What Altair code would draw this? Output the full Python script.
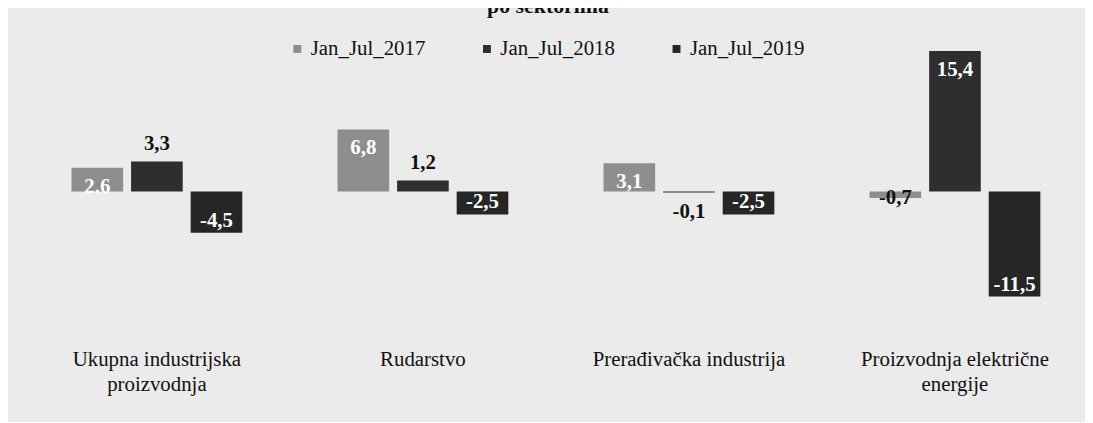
import altair as alt
import pandas as pd

title_text = "po sektorima"
categories = [
    "Ukupna industrijska\nproizvodnja",
    "Rudarstvo",
    "Prerađivačka industrija",
    "Proizvodnja električne\nenergije",
]
series = ["Jan_Jul_2017", "Jan_Jul_2018", "Jan_Jul_2019"]
values_2017 = [2.6, 6.8, 3.1, -0.7]
values_2018 = [3.3, 1.2, -0.1, 15.4]
values_2019 = [-4.5, -2.5, -2.5, -11.5]
labels_2017 = ["2.6", "6,8", "3,1", "-0,7"]
labels_2018 = ["3,3", "1,2", "-0,1", "15,4"]
labels_2019 = ["-4,5", "-2,5", "-2,5", "-11,5"]
place_2017 = ["inside", "inside", "inside", "end"]
place_2018 = ["outside", "outside", "outside", "inside"]
place_2019 = ["inside", "inside", "inside", "inside"]
colors = ["#8e8e8e", "#2e2e2e", "#262626"]

rows = []
for s, vals, labs, pls in [
    (series[0], values_2017, labels_2017, place_2017),
    (series[1], values_2018, labels_2018, place_2018),
    (series[2], values_2019, labels_2019, place_2019),
]:
    for c, v, l, p in zip(categories, vals, labs, pls):
        rows.append({"cat": c, "series": s, "value": v, "label": l, "place": p})
df = pd.DataFrame(rows)

FONT = "Liberation Serif"

base = alt.Chart(df).encode(
    x=alt.X(
        "cat:N",
        sort=categories,
        scale=alt.Scale(range=[0, 1072], paddingInner=0.358, paddingOuter=0.179),
        axis=alt.Axis(
            title=None,
            labelAngle=0,
            domain=False,
            ticks=False,
            grid=False,
            labelFont=FONT,
            labelFontSize=21,
            labelColor="#111111",
            labelPadding=39,
            labelLineHeight=25,
            labelBaseline="top",
            labelLimit=400,
            labelExpr="split(datum.label, '\\n')",
        ),
    ),
    xOffset=alt.XOffset(
        "series:N", sort=series, scale=alt.Scale(paddingInner=0.1333, paddingOuter=0)
    ),
    y=alt.Y(
        "value:Q",
        scale=alt.Scale(domain=[-13, 17], nice=False, zero=True),
        axis=None,
    ),
)

bars = base.mark_bar().encode(
    color=alt.Color(
        "series:N",
        scale=alt.Scale(domain=series, range=colors),
        legend=alt.Legend(
            title=None,
            orient="none",
            legendX=265,
            legendY=2,
            direction="horizontal",
            symbolType="square",
            symbolSize=64,
            symbolStrokeWidth=0,
            symbolOpacity=1,
            labelFont=FONT,
            labelFontSize=21,
            labelColor="#111111",
            labelOffset=3,
            columnPadding=51,
        ),
    )
)


def label_layer(cond, dy, color):
    return (
        base.transform_filter(cond)
        .mark_text(
            font=FONT,
            fontSize=21,
            fontWeight="bold",
            baseline="middle",
            align="center",
            dy=dy,
            color=color,
        )
        .encode(text="label:N")
    )


lab_in_pos = label_layer("datum.place == 'inside' && datum.value > 0", 19, "white")
lab_in_neg = label_layer("datum.place == 'inside' && datum.value < 0", -12, "white")
lab_out_pos = label_layer("datum.place == 'outside' && datum.value > 0", -18, "#111111")
lab_out_neg = label_layer("datum.place == 'outside' && datum.value < 0", 20, "#111111")
lab_end = label_layer("datum.place == 'end'", 0, "#111111")

title = (
    alt.Chart(pd.DataFrame({"t": [title_text]}))
    .mark_text(font=FONT, fontSize=22, fontWeight="bold", baseline="alphabetic", align="center", color="#111111")
    .encode(text="t:N", x=alt.value(528), y=alt.value(-23))
)

chart = (
    alt.layer(bars, lab_in_pos, lab_in_neg, lab_out_pos, lab_out_neg, lab_end, title)
    .properties(
        width=1061,
        height=276,
        autosize=alt.AutoSizeParams(type="none"),
        padding={"left": 16, "top": 27, "right": 8, "bottom": 111},
        background="#ebebeb",
    )
    .configure_view(strokeWidth=0)
)

chart.save("out.html", embed_options={"renderer": "svg", "actions": False})
